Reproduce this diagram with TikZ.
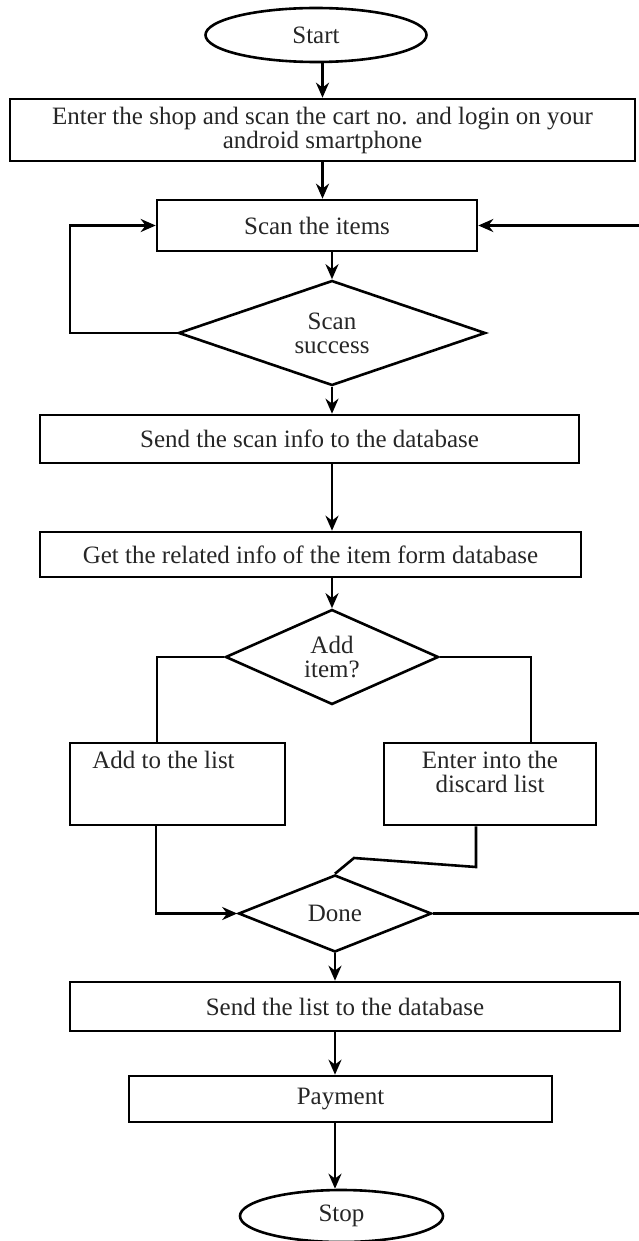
\documentclass[tikz,border=0pt]{standalone}
\usepackage{fontspec}
\setmainfont{Liberation Serif}
\usetikzlibrary{shapes.geometric, arrows.meta}

\begin{document}
\begin{tikzpicture}[
    >={Stealth[length=15pt, width=13pt]},
    line width=2.6pt,
    every node/.style={font=\fontsize{25}{24}\selectfont, align=center, inner sep=0pt, text=black!85},
    box/.style={draw, rectangle},
    decision/.style={draw, diamond},
    terminal/.style={draw, ellipse},
    yscale=-1,
    x=1pt,
    y=1pt
]
    \useasboundingbox (0,0) rectangle (638,1241);

    \node[terminal, minimum width=221pt, minimum height=54pt] (start) at (316,35) {Start};
    \node[box, minimum width=625pt, minimum height=62pt] (enter) at (322.5,130) {Enter the shop and scan the cart no. and login on your\\android smartphone};
    \node[box, minimum width=320pt, minimum height=51pt] (scan) at (317,225.5) {Scan the items};
    \node[decision, aspect=2.9, minimum width=307pt, minimum height=105pt] (scanok) at (332,333) {Scan\\success};
    \node[box, minimum width=539pt, minimum height=48pt] (sendinfo) at (309.5,439) {Send the scan info to the database};
    \node[box, minimum width=541pt, minimum height=45pt] (getinfo) at (310.5,554.5) {Get the related info of the item form database};
    \node[decision, aspect=2.2, minimum width=213pt, minimum height=95pt] (additem) at (332,657) {Add\\item?};
    \node[box, minimum width=215pt, minimum height=82pt,
        label={[anchor=north, xshift=-14pt, yshift=-8pt]north:Add to the list}] (addlist) at (177.5,784) {};
    \node[box, minimum width=212pt, minimum height=82pt,
        label={[anchor=north, yshift=-8pt]north:Enter into the\\discard list}] (discard) at (490,784) {};
    \node[decision, aspect=2.5, minimum width=193pt, minimum height=77pt] (done) at (335,913.5) {Done};
    \node[box, minimum width=550pt, minimum height=49pt] (sendlist) at (345,1006.5) {Send the list to the database};
    \node[box, minimum width=423pt, minimum height=46pt] (payment) at (340.5,1099) {Payment};
    \node[terminal, minimum width=203pt, minimum height=52pt] (stop) at (341.5,1216) {Stop};

    % loop back lines and the kink above Done
    \coordinate (lloop) at (70,0);
    \coordinate (rloop) at (660,0);
    \coordinate (bend) at (476,867);
    \coordinate (kink) at (354,858);

    \draw[->] (start.south -| enter) -- (enter);
    \draw[->] (enter) -- (enter |- scan.north);
    \draw[->] (scan.south -| scanok) -- (scanok);
    \draw[->] (scanok) -- (scanok |- sendinfo.north);
    \draw[->] (sendinfo.south -| scanok) -- (scanok |- getinfo.north);
    \draw[->] (getinfo.south -| additem) -- (additem);
    \draw (additem.west) -| ([xshift=-20.5pt]addlist.north);
    \draw (additem.east) -| ([xshift=41pt]discard.north);
    \draw[->] ([xshift=-21.5pt]addlist.south) |- (done.west);
    \draw (discard.south -| bend) -- (bend) -- (kink) -- (done.north);
    \draw[->] (done) -- (done |- sendlist.north);
    \draw[->] (sendlist.south -| done) -- (done |- payment.north);
    \draw[->] (payment.south -| done) -- (done |- stop.north);
    \draw[->] (scanok.west) -- (scanok.west -| lloop) |- (scan.west);
    \draw[->] (done.east) -- (done.east -| rloop) |- (scan.east);
\end{tikzpicture}
\end{document}
